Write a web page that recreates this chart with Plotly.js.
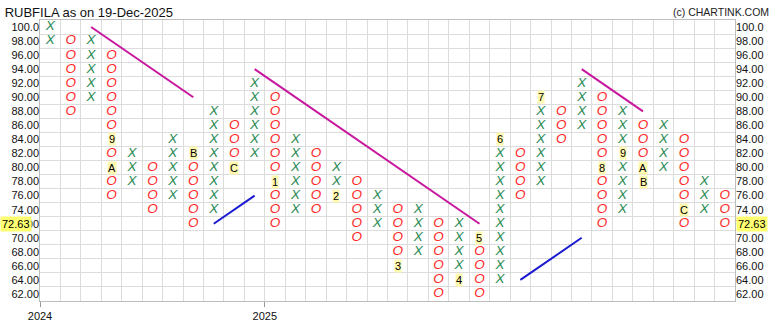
<!DOCTYPE html>
<html>
<head>
<meta charset="utf-8">
<script src="https://cdn.plot.ly/plotly-3.0.1.min.js"></script>
<style>html,body{margin:0;padding:0;background:#fff;}#chart{width:778px;height:330px;}</style>
</head>
<body>
<div id="chart"></div>
<script>
// Point & Figure columns (box size 2)
const colType = ['X','O','X','O','X','O','X','O','X','O','X','O','X','O','X','O','X','O','X','O','X','O','X','O','X','O','X','O','X','O','X','O','X','O'];
const colLow  = [98,88,90,76,78,74,76,72,74,80,82,72,74,74,76,70,72,66,68,62,64,62,64,76,78,84,86,72,74,78,80,72,74,72];
const colHigh = [100,98,98,96,82,80,84,82,88,86,92,90,84,82,80,78,76,74,74,72,72,70,84,82,90,88,92,90,88,86,86,84,78,76];
// month markers replacing boxes
const labelCol  = [3,3,7,9,11,14,17,20,21,22,24,27,28,29,29,31];
const labelVal  = [84,80,82,80,78,76,66,64,70,84,90,80,82,80,78,74];
const labelText = ['9','A','B','C','1','2','3','4','5','6','7','8','9','A','B','C'];
// trend lines [col, value] pairs
const resistLines = [[[2,100],[7,90]], [[10,94],[21,72]], [[26,94],[29,88]]];
const supportLines = [[[8,72],[10,76]], [[23,64],[26,70]]];
// axis labels
const priceLevels = [62,64,66,68,70,72,74,76,78,80,82,84,86,88,90,92,94,96,98,100];
const priceText = priceLevels.map(v => v >= 100 ? v.toFixed(1) : v.toFixed(2));
const yearCols = [-0.5, 10.5];
const yearText = ['2024','2025'];
const lastPrice = 72.63;
const boxSize = 2;

const xs = {x:[],y:[]}, os = {x:[],y:[]};
const labelKey = new Set(labelCol.map((c,i)=>c+'_'+labelVal[i]));
colType.forEach((t,c)=>{
  for(let v=colLow[c]; v<=colHigh[c]; v+=boxSize){
    if(labelKey.has(c+'_'+v)) continue;
    const tgt = t==='X'?xs:os;
    tgt.x.push(c); tgt.y.push(v);
  }
});

const traces = [
  {x:xs.x, y:xs.y, mode:'text', text:xs.x.map(()=> 'X'), textposition:'middle center',
   textfont:{family:'Liberation Sans, Arial, sans-serif', size:13.5, color:'#2a8a55', style:'italic'}, hoverinfo:'skip', showlegend:false},
  {x:os.x, y:os.y, mode:'text', text:os.x.map(()=> 'O'), textposition:'middle center',
   textfont:{family:'Liberation Sans, Arial, sans-serif', size:13.5, color:'#ff2a2a', style:'italic'}, hoverinfo:'skip', showlegend:false},
  {x:[0], y:[80], xaxis:'x2', yaxis:'y2', mode:'markers', marker:{opacity:0}, hoverinfo:'skip', showlegend:false},
  {x:[0], y:[80], xaxis:'x', yaxis:'y3', mode:'markers', marker:{opacity:0}, hoverinfo:'skip', showlegend:false}
];
resistLines.forEach(l=>traces.push({x:l.map(p=>p[0]), y:l.map(p=>p[1]), mode:'lines',
  line:{color:'#c8179e', width:2}, hoverinfo:'skip', showlegend:false}));
supportLines.forEach(l=>traces.push({x:l.map(p=>p[0]), y:l.map(p=>p[1]), mode:'lines',
  line:{color:'#1a1ad0', width:2}, hoverinfo:'skip', showlegend:false}));

const annotations = labelCol.map((c,i)=>({x:c, y:labelVal[i], xref:'x', yref:'y', text:labelText[i],
  showarrow:false, bgcolor:'#fff9b0', borderpad:0, font:{family:'Liberation Sans, Arial, sans-serif', size:11, color:'#000'}}));
const lastBox = Math.floor(lastPrice/boxSize)*boxSize;
annotations.push({xref:'paper', yref:'y', x:-0.012, y:lastBox, xanchor:'right', text:lastPrice.toFixed(2), showarrow:false,
  bgcolor:'#ffff70', borderpad:1, font:{family:'Liberation Sans, Arial, sans-serif', size:11, color:'#000'}});
annotations.push({xref:'paper', yref:'y', x:1.002, y:lastBox, xanchor:'left', text:lastPrice.toFixed(2), showarrow:false,
  bgcolor:'#ffff70', borderpad:1, font:{family:'Liberation Sans, Arial, sans-serif', size:11, color:'#000'}});
annotations.push({xref:'paper', yref:'paper', x:1.052, y:1.03, xanchor:'right', yanchor:'middle', text:'(c) CHARTINK.COM', showarrow:false,
  font:{family:'Liberation Sans, Arial, sans-serif', size:10.5, color:'#222'}});

const tickFont = {family:'Liberation Sans, Arial, sans-serif', size:11, color:'#111'};
const layout = {
  width:778, height:330,
  margin:{l:40, r:43, t:20, b:29},
  paper_bgcolor:'#fff', plot_bgcolor:'#fff',
  title:{text:'RUBFILA as on 19-Dec-2025', x:0.006, xanchor:'left', xref:'container', y:0.962, yref:'container', yanchor:'middle',
    font:{family:'Liberation Sans, Arial, sans-serif', size:13, color:'#111'}},
  xaxis:{range:[-0.5,33.5], tickmode:'linear', tick0:-0.5, dtick:1, showticklabels:false, ticks:'',
    showgrid:true, gridcolor:'#dcdcdc', gridwidth:1, zeroline:false, showline:true, linecolor:'#bdbdbd', mirror:true, fixedrange:true},
  xaxis2:{overlaying:'x', anchor:'y', side:'bottom', range:[-0.5,33.5], tickmode:'array', tickvals:yearCols, ticktext:yearText,
    ticks:'outside', ticklen:5, tickcolor:'#999', showgrid:false, zeroline:false, showline:false, tickfont:tickFont},
  yaxis:{range:[61,101], tickmode:'linear', tick0:61, dtick:2, showticklabels:false, ticks:'',
    showgrid:true, gridcolor:'#dcdcdc', gridwidth:1, zeroline:false, showline:true, linecolor:'#bdbdbd', mirror:true, fixedrange:true},
  yaxis2:{overlaying:'y', anchor:'x2', side:'left', range:[61,101], tickmode:'array', tickvals:priceLevels, ticktext:priceText,
    ticks:'', showgrid:false, zeroline:false, showline:false, tickfont:tickFont, ticklabelstandoff:0},
  yaxis3:{overlaying:'y', anchor:'x', side:'right', range:[61,101], tickmode:'array', tickvals:priceLevels, ticktext:priceText,
    ticks:'', showgrid:false, zeroline:false, showline:false, tickfont:tickFont},
  annotations:annotations,
  showlegend:false
};
Plotly.newPlot('chart', traces, layout, {displayModeBar:false, staticPlot:true});
</script>
</body>
</html>
